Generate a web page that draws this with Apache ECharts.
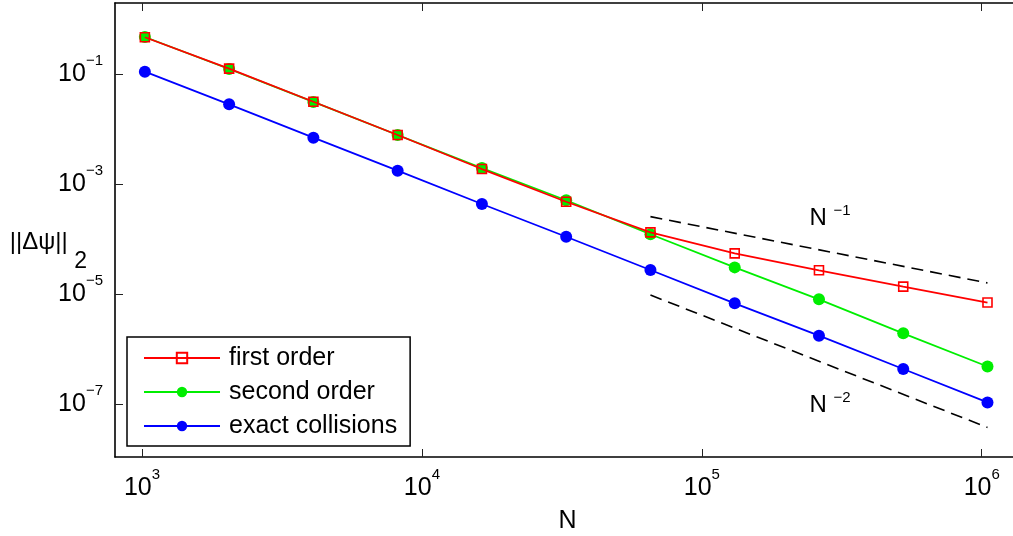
<!DOCTYPE html>
<html>
<head>
<meta charset="utf-8">
<script src="https://cdn.jsdelivr.net/npm/echarts@6/dist/echarts.min.js"></script>
<style>
  html, body { margin: 0; padding: 0; background: #fff; }
  #chart { width: 1013px; height: 536px; }
</style>
</head>
<body>
<div id="chart"></div>
<script>
// problem sizes N = 2^10 ... 2^20
const sizes = [1024, 2048, 4096, 8192, 16384, 32768, 65536, 131072, 262144, 524288, 1048576];
const firstOrder = [0.465, 0.125, 0.0313, 0.00778, 0.00187, 4.76e-4, 1.32e-4, 5.49e-5, 2.70e-5, 1.36e-5, 7.0e-6];
const secondOrder = [0.47, 0.123, 0.0310, 0.00778, 0.00195, 5.06e-4, 1.22e-4, 3.05e-5, 8.0e-6, 1.93e-6, 4.81e-7];
const exactColl = [0.110, 0.0281, 0.00695, 0.001745, 4.33e-4, 1.10e-4, 2.73e-5, 6.78e-6, 1.75e-6, 4.33e-7, 1.07e-7];

// guide slopes (end points)
const slope1 = [[65536, 2.55e-4], [1048576, 1.59e-5]];
const slope2 = [[65536, 9.6e-6], [1048576, 3.75e-8]];

const xTicks = [1e3, 1e4, 1e5, 1e6];
const yTicks = [1e-1, 1e-3, 1e-5, 1e-7];

const FONT = 'Liberation Sans, Arial, sans-serif';
const MINUS = '\u2212';

function powLabel(v) {
  const e = Math.round(Math.log10(v));
  return '{b|10}{s|' + String(e).replace('-', MINUS) + '}';
}

const powRich = {
  b: { fontSize: 25, lineHeight: 42, fontFamily: FONT, color: '#000', verticalAlign: 'middle' },
  s: { fontSize: 15, lineHeight: 15, fontFamily: FONT, color: '#000', verticalAlign: 'top' }
};

const supRich = {
  n: { fontSize: 24, lineHeight: 30, fontFamily: FONT, color: '#000', verticalAlign: 'middle' },
  s: { fontSize: 15, lineHeight: 15, fontFamily: FONT, color: '#000', verticalAlign: 'top' }
};

const chart = echarts.init(document.getElementById('chart'));

const pair = (xs, ys) => xs.map((x, i) => [x, ys[i]]);

const axisLine = { show: true, onZero: false, lineStyle: { color: '#000', width: 1.6 } };
const tickStyle = { inside: true, length: 8, lineStyle: { color: '#222', width: 1 } };

chart.setOption({
  animation: false,
  backgroundColor: '#fff',
  grid: { left: 115, top: 3, width: 905, height: 454, outerBoundsMode: 'none' },
  xAxis: [{
    type: 'log', logBase: 10, min: 801, max: 1.37e6,
    name: 'N', nameLocation: 'middle', nameGap: 52, nameMoveOverlap: false,
    nameTextStyle: { fontSize: 25, fontFamily: FONT, color: '#000' },
    axisLine: axisLine,
    axisTick: Object.assign({ customValues: xTicks }, tickStyle),
    axisLabel: { customValues: xTicks, margin: 10, formatter: powLabel, rich: powRich },
    splitLine: { show: false }, minorTick: { show: false }
  }, {
    type: 'log', logBase: 10, min: 801, max: 1.37e6, position: 'top',
    axisLine: axisLine,
    axisTick: Object.assign({ customValues: xTicks }, tickStyle),
    axisLabel: { show: false }, splitLine: { show: false }
  }],
  yAxis: [{
    type: 'log', logBase: 10, min: 1.09e-8, max: 1.95,
    name: '{a|||\u0394\u03c8||}{b| 2}', nameLocation: 'middle', nameRotate: 0, nameGap: 28,
    nameMoveOverlap: false,
    nameTextStyle: {
      align: 'right',
      padding: [64, 0, 0, 0],
      rich: {
        a: { fontSize: 24, lineHeight: 24, fontFamily: FONT, color: '#000', verticalAlign: 'top' },
        b: { fontSize: 23, lineHeight: 64, fontFamily: FONT, color: '#000', verticalAlign: 'middle' }
      }
    },
    axisLine: axisLine,
    axisTick: Object.assign({ customValues: yTicks }, tickStyle),
    axisLabel: { customValues: yTicks, margin: 12, formatter: powLabel, rich: powRich },
    splitLine: { show: false }
  }],
  legend: {
    orient: 'vertical', left: 127, top: 337,
    data: ['first order', 'second order', 'exact collisions'],
    itemWidth: 76, itemHeight: 13, itemGap: 4,
    padding: [6, 13, 5, 16],
    borderColor: '#000', borderWidth: 1.5, backgroundColor: '#fff',
    textStyle: { fontSize: 25, lineHeight: 30, fontFamily: FONT, color: '#000', padding: [0, 0, 0, 4] }
  },
  series: [{
    name: 'second order', type: 'line', z: 3,
    data: pair(sizes, secondOrder),
    symbol: 'circle', symbolSize: 12,
    lineStyle: { color: '#00ee00', width: 1.8 },
    itemStyle: { color: '#00ee00' }
  }, {
    name: 'exact collisions', type: 'line', z: 3,
    data: pair(sizes, exactColl),
    symbol: 'circle', symbolSize: 12,
    lineStyle: { color: '#0000ff', width: 1.8 },
    itemStyle: { color: '#0000ff' }
  }, {
    name: 'first order', type: 'line', z: 4,
    data: pair(sizes, firstOrder),
    symbol: 'rect', symbolSize: 9,
    lineStyle: { color: '#ff0000', width: 1.8 },
    itemStyle: { color: 'rgba(0,0,0,0)', borderColor: '#ff0000', borderWidth: 1.6 }
  }, {
    name: 'N^-1', type: 'line', z: 2, silent: true,
    data: slope1, symbol: 'none',
    lineStyle: { color: '#000', width: 1.6, type: [12, 7] },
    markPoint: {
      symbol: 'circle', symbolSize: 0, silent: true,
      data: [{ coord: [2.87e5, 2.41e-4] }],
      label: { show: true, position: 'inside', formatter: '{n|N }{s|' + MINUS + '1}', rich: supRich }
    }
  }, {
    name: 'N^-2', type: 'line', z: 2, silent: true,
    data: slope2, symbol: 'none',
    lineStyle: { color: '#000', width: 1.6, type: [12, 7] },
    markPoint: {
      symbol: 'circle', symbolSize: 0, silent: true,
      data: [{ coord: [2.87e5, 9.6e-8] }],
      label: { show: true, position: 'inside', formatter: '{n|N }{s|' + MINUS + '2}', rich: supRich }
    }
  }]
});
</script>
</body>
</html>
